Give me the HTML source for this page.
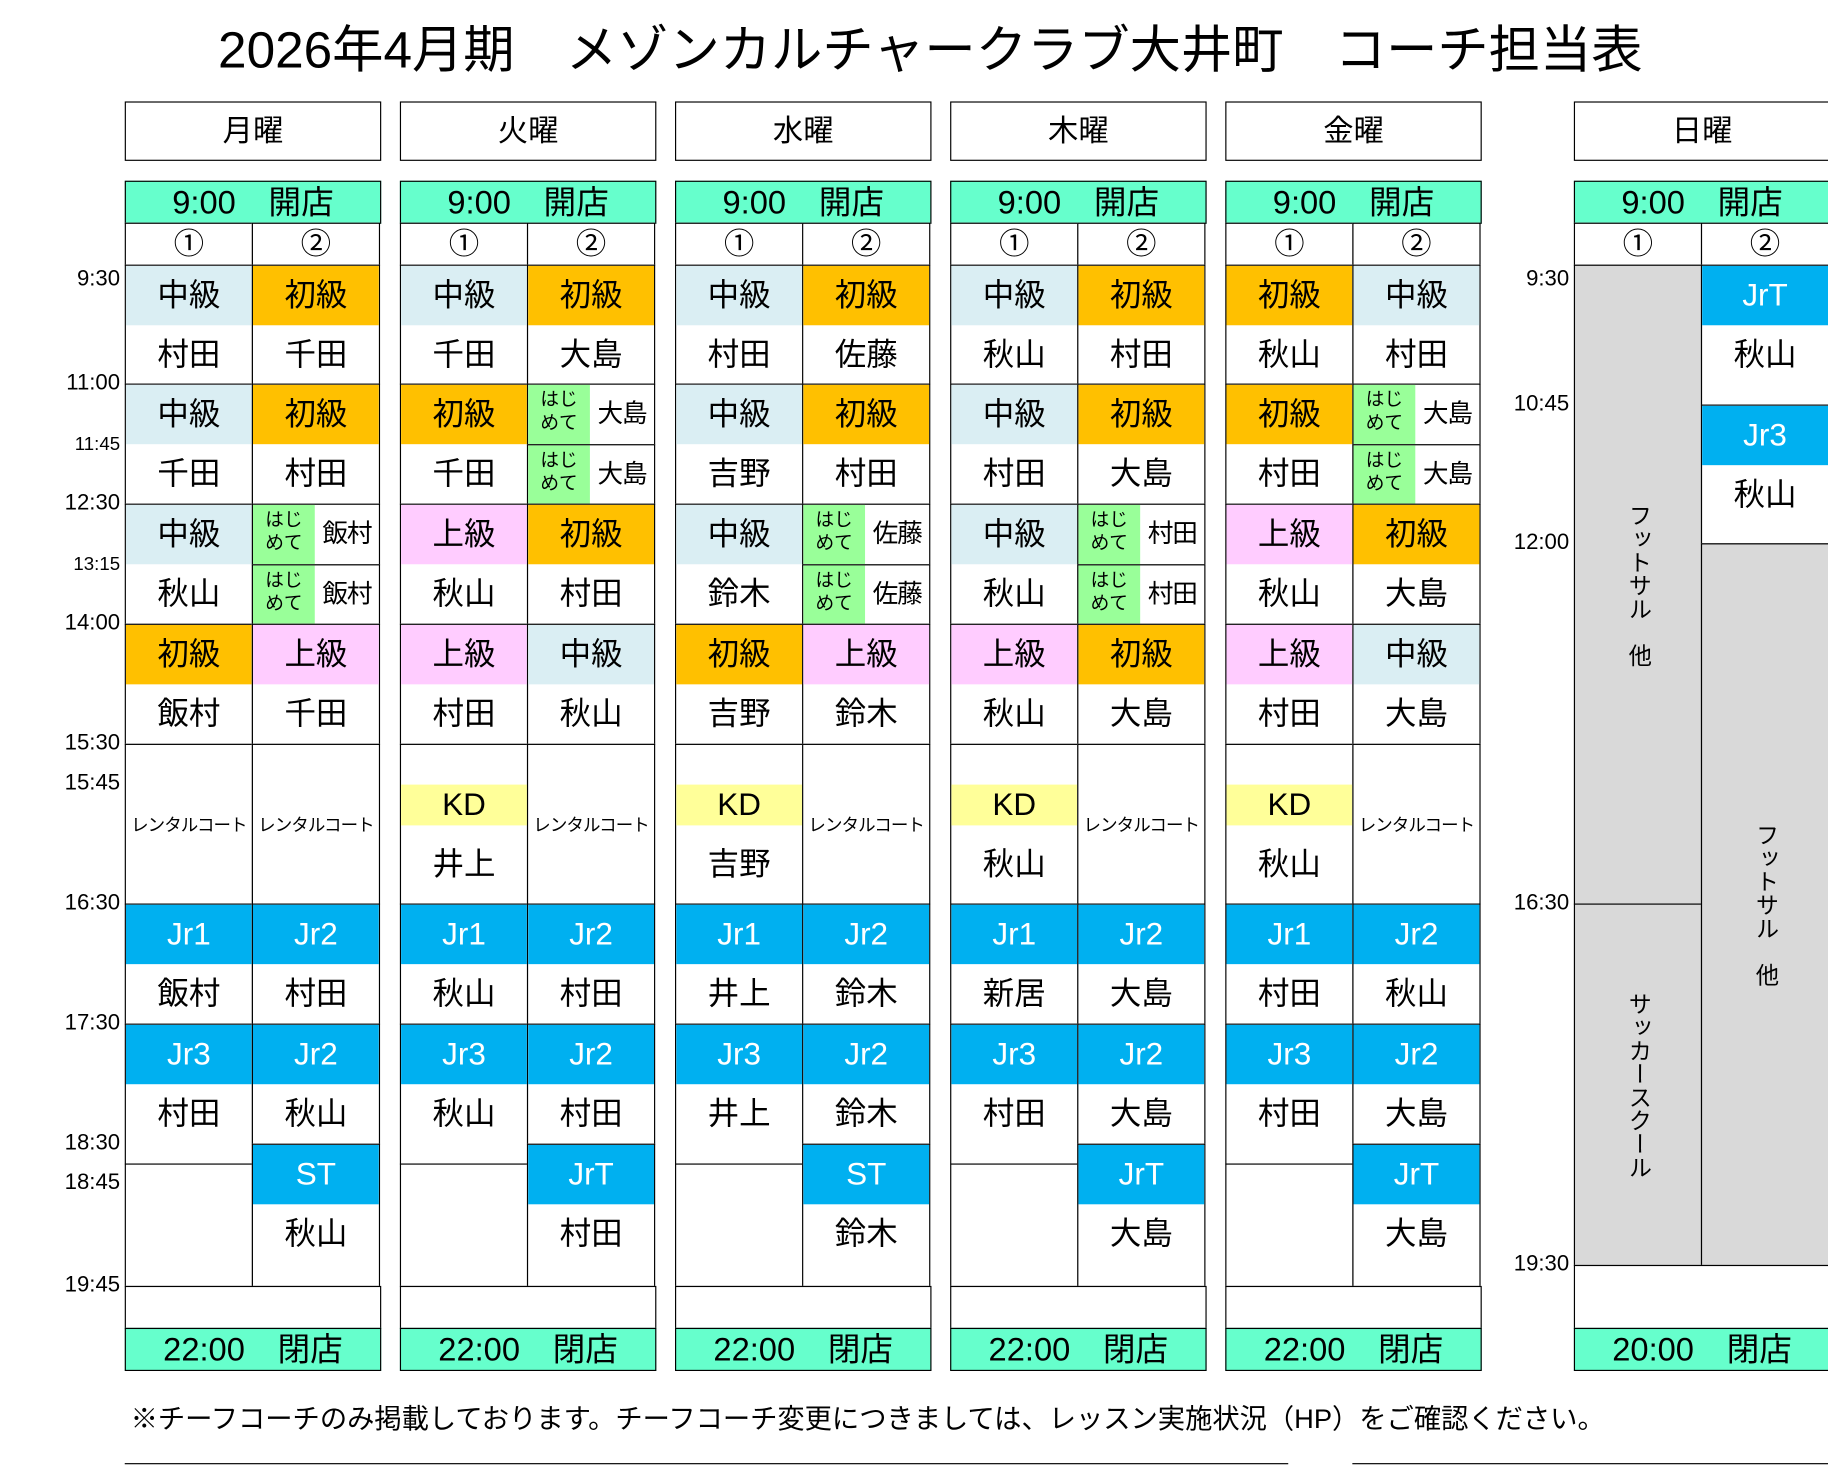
<!DOCTYPE html>
<html><head><meta charset="utf-8">
<style>
*{margin:0;padding:0}
body{width:1828px;height:1466px;background:#fff;overflow:hidden;font-family:"Liberation Sans","Noto Sans CJK JP",sans-serif;color:#000}
#w{position:absolute;left:0;top:0;width:1568px;height:1258px;transform:scale(1.16582);transform-origin:0 0}
.a{position:absolute}
.title{position:absolute;left:0;width:1596px;top:14px;text-align:center;font-size:44px;white-space:pre;line-height:60px}
.dh{position:absolute;top:87px;width:220px;height:51px;box-sizing:border-box;border:1px solid #000;text-align:center;font-size:26px;line-height:48px}
.d{position:absolute;top:155px;width:220px;height:1021px}
.b{position:absolute;box-sizing:border-box;border:1px solid #000;background:#fff;width:110px;overflow:hidden;font-size:27px;text-align:center}
.l{left:0}.r{left:109px}.f{left:0;width:220px}
.h,.n{height:51px;line-height:50px}
.o{top:0;height:37px;background:#66FFCC;line-height:35px;font-size:28px}
.num{top:36px;height:37px;line-height:35px;font-size:26px}
.c1{background:#DAEEF3}.c2{background:#FFC000}.c3{background:#FFCCFF}.jr{background:#00B0F0;color:#fff}.kd{background:#FFFF99}.g{background:#D9D9D9}
.rent{display:flex;align-items:center;justify-content:center;font-size:15px;letter-spacing:-0.8px;white-space:nowrap}
.hj{display:flex;font-size:22px}
.hj .s{width:53px;height:100%;background:#99FF99;font-size:16px;line-height:20px;padding-top:4px;box-sizing:border-box}
.hj .t{flex:1;line-height:50px;letter-spacing:-1px}
.tm{position:absolute;width:103px;text-align:right;font-size:19px;line-height:22px}
.tm.s{font-size:16px}
.v{writing-mode:vertical-rl;font-size:20px;position:absolute;left:0;right:0;display:flex;justify-content:center;align-items:center;white-space:pre}
.kdb .top{height:34px}.kdb .k{height:35px;line-height:35px}.kdb .nm{height:68px;line-height:66px}
.foot{position:absolute;left:112px;top:1198px;font-size:23.4px;white-space:nowrap}
</style></head><body><div id="w">
<div class="title">2026年4月期　メゾンカルチャークラブ大井町　コーチ担当表</div>

<div class="dh" style="left:107px">月曜</div>
<div class="dh" style="left:343px">火曜</div>
<div class="dh" style="left:579px">水曜</div>
<div class="dh" style="left:815px">木曜</div>
<div class="dh" style="left:1051px">金曜</div>
<div class="dh" style="left:1350px">日曜</div>

<div class="tm" style="left:0;top:229px">9:30</div>
<div class="tm" style="left:0;top:318px">11:00</div>
<div class="tm s" style="left:0;top:371px">11:45</div>
<div class="tm" style="left:0;top:421px">12:30</div>
<div class="tm s" style="left:0;top:474px">13:15</div>
<div class="tm" style="left:0;top:524px">14:00</div>
<div class="tm" style="left:0;top:627px">15:30</div>
<div class="tm" style="left:0;top:661px">15:45</div>
<div class="tm" style="left:0;top:764px">16:30</div>
<div class="tm" style="left:0;top:867px">17:30</div>
<div class="tm" style="left:0;top:970px">18:30</div>
<div class="tm" style="left:0;top:1004px">18:45</div>
<div class="tm" style="left:0;top:1092px">19:45</div>

<div class="tm" style="left:1243px;top:229px">9:30</div>
<div class="tm" style="left:1243px;top:336px">10:45</div>
<div class="tm" style="left:1243px;top:455px">12:00</div>
<div class="tm" style="left:1243px;top:764px">16:30</div>
<div class="tm" style="left:1243px;top:1074px">19:30</div>

<!-- Monday -->
<div class="d" style="left:107px">
<div class="b f o">9:00　開店</div>
<div class="b l num">①</div><div class="b r num">②</div>
<div class="b l" style="top:72px;height:103px"><div class="h c1">中級</div><div class="n">村田</div></div>
<div class="b l" style="top:174px;height:104px"><div class="h c1">中級</div><div class="n">千田</div></div>
<div class="b l" style="top:277px;height:104px"><div class="h c1">中級</div><div class="n">秋山</div></div>
<div class="b l" style="top:380px;height:104px"><div class="h c2">初級</div><div class="n">飯村</div></div>
<div class="b l rent" style="top:483px;height:138px">レンタルコート</div>
<div class="b l" style="top:620px;height:104px"><div class="h jr">Jr1</div><div class="n">飯村</div></div>
<div class="b l" style="top:723px;height:121px"><div class="h jr">Jr3</div><div class="n">村田</div></div>
<div class="b l" style="top:843px;height:106px"></div>
<div class="b r" style="top:72px;height:103px"><div class="h c2">初級</div><div class="n">千田</div></div>
<div class="b r" style="top:174px;height:104px"><div class="h c2">初級</div><div class="n">村田</div></div>
<div class="b r hj" style="top:277px;height:53px"><div class="s">はじ<br>めて</div><div class="t">飯村</div></div>
<div class="b r hj" style="top:329px;height:52px"><div class="s">はじ<br>めて</div><div class="t">飯村</div></div>
<div class="b r" style="top:380px;height:104px"><div class="h c3">上級</div><div class="n">千田</div></div>
<div class="b r rent" style="top:483px;height:138px">レンタルコート</div>
<div class="b r" style="top:620px;height:104px"><div class="h jr">Jr2</div><div class="n">村田</div></div>
<div class="b r" style="top:723px;height:104px"><div class="h jr">Jr2</div><div class="n">秋山</div></div>
<div class="b r" style="top:826px;height:123px"><div class="h jr">ST</div><div class="n">秋山</div></div>
<div class="b f" style="top:948px;height:37px"></div>
<div class="b f o" style="top:984px">22:00　閉店</div>
</div>

<!-- Tuesday -->
<div class="d" style="left:343px">
<div class="b f o">9:00　開店</div>
<div class="b l num">①</div><div class="b r num">②</div>
<div class="b l" style="top:72px;height:103px"><div class="h c1">中級</div><div class="n">千田</div></div>
<div class="b l" style="top:174px;height:104px"><div class="h c2">初級</div><div class="n">千田</div></div>
<div class="b l" style="top:277px;height:104px"><div class="h c3">上級</div><div class="n">秋山</div></div>
<div class="b l" style="top:380px;height:104px"><div class="h c3">上級</div><div class="n">村田</div></div>
<div class="b l kdb" style="top:483px;height:138px"><div class="top"></div><div class="k kd">KD</div><div class="nm">井上</div></div>
<div class="b l" style="top:620px;height:104px"><div class="h jr">Jr1</div><div class="n">秋山</div></div>
<div class="b l" style="top:723px;height:121px"><div class="h jr">Jr3</div><div class="n">秋山</div></div>
<div class="b l" style="top:843px;height:106px"></div>
<div class="b r" style="top:72px;height:103px"><div class="h c2">初級</div><div class="n">大島</div></div>
<div class="b r hj" style="top:174px;height:53px"><div class="s">はじ<br>めて</div><div class="t">大島</div></div>
<div class="b r hj" style="top:226px;height:52px"><div class="s">はじ<br>めて</div><div class="t">大島</div></div>
<div class="b r" style="top:277px;height:104px"><div class="h c2">初級</div><div class="n">村田</div></div>
<div class="b r" style="top:380px;height:104px"><div class="h c1">中級</div><div class="n">秋山</div></div>
<div class="b r rent" style="top:483px;height:138px">レンタルコート</div>
<div class="b r" style="top:620px;height:104px"><div class="h jr">Jr2</div><div class="n">村田</div></div>
<div class="b r" style="top:723px;height:104px"><div class="h jr">Jr2</div><div class="n">村田</div></div>
<div class="b r" style="top:826px;height:123px"><div class="h jr">JrT</div><div class="n">村田</div></div>
<div class="b f" style="top:948px;height:37px"></div>
<div class="b f o" style="top:984px">22:00　閉店</div>
</div>

<!-- Wednesday -->
<div class="d" style="left:579px">
<div class="b f o">9:00　開店</div>
<div class="b l num">①</div><div class="b r num">②</div>
<div class="b l" style="top:72px;height:103px"><div class="h c1">中級</div><div class="n">村田</div></div>
<div class="b l" style="top:174px;height:104px"><div class="h c1">中級</div><div class="n">吉野</div></div>
<div class="b l" style="top:277px;height:104px"><div class="h c1">中級</div><div class="n">鈴木</div></div>
<div class="b l" style="top:380px;height:104px"><div class="h c2">初級</div><div class="n">吉野</div></div>
<div class="b l kdb" style="top:483px;height:138px"><div class="top"></div><div class="k kd">KD</div><div class="nm">吉野</div></div>
<div class="b l" style="top:620px;height:104px"><div class="h jr">Jr1</div><div class="n">井上</div></div>
<div class="b l" style="top:723px;height:121px"><div class="h jr">Jr3</div><div class="n">井上</div></div>
<div class="b l" style="top:843px;height:106px"></div>
<div class="b r" style="top:72px;height:103px"><div class="h c2">初級</div><div class="n">佐藤</div></div>
<div class="b r" style="top:174px;height:104px"><div class="h c2">初級</div><div class="n">村田</div></div>
<div class="b r hj" style="top:277px;height:53px"><div class="s">はじ<br>めて</div><div class="t">佐藤</div></div>
<div class="b r hj" style="top:329px;height:52px"><div class="s">はじ<br>めて</div><div class="t">佐藤</div></div>
<div class="b r" style="top:380px;height:104px"><div class="h c3">上級</div><div class="n">鈴木</div></div>
<div class="b r rent" style="top:483px;height:138px">レンタルコート</div>
<div class="b r" style="top:620px;height:104px"><div class="h jr">Jr2</div><div class="n">鈴木</div></div>
<div class="b r" style="top:723px;height:104px"><div class="h jr">Jr2</div><div class="n">鈴木</div></div>
<div class="b r" style="top:826px;height:123px"><div class="h jr">ST</div><div class="n">鈴木</div></div>
<div class="b f" style="top:948px;height:37px"></div>
<div class="b f o" style="top:984px">22:00　閉店</div>
</div>

<!-- Thursday -->
<div class="d" style="left:815px">
<div class="b f o">9:00　開店</div>
<div class="b l num">①</div><div class="b r num">②</div>
<div class="b l" style="top:72px;height:103px"><div class="h c1">中級</div><div class="n">秋山</div></div>
<div class="b l" style="top:174px;height:104px"><div class="h c1">中級</div><div class="n">村田</div></div>
<div class="b l" style="top:277px;height:104px"><div class="h c1">中級</div><div class="n">秋山</div></div>
<div class="b l" style="top:380px;height:104px"><div class="h c3">上級</div><div class="n">秋山</div></div>
<div class="b l kdb" style="top:483px;height:138px"><div class="top"></div><div class="k kd">KD</div><div class="nm">秋山</div></div>
<div class="b l" style="top:620px;height:104px"><div class="h jr">Jr1</div><div class="n">新居</div></div>
<div class="b l" style="top:723px;height:121px"><div class="h jr">Jr3</div><div class="n">村田</div></div>
<div class="b l" style="top:843px;height:106px"></div>
<div class="b r" style="top:72px;height:103px"><div class="h c2">初級</div><div class="n">村田</div></div>
<div class="b r" style="top:174px;height:104px"><div class="h c2">初級</div><div class="n">大島</div></div>
<div class="b r hj" style="top:277px;height:53px"><div class="s">はじ<br>めて</div><div class="t">村田</div></div>
<div class="b r hj" style="top:329px;height:52px"><div class="s">はじ<br>めて</div><div class="t">村田</div></div>
<div class="b r" style="top:380px;height:104px"><div class="h c2">初級</div><div class="n">大島</div></div>
<div class="b r rent" style="top:483px;height:138px">レンタルコート</div>
<div class="b r" style="top:620px;height:104px"><div class="h jr">Jr2</div><div class="n">大島</div></div>
<div class="b r" style="top:723px;height:104px"><div class="h jr">Jr2</div><div class="n">大島</div></div>
<div class="b r" style="top:826px;height:123px"><div class="h jr">JrT</div><div class="n">大島</div></div>
<div class="b f" style="top:948px;height:37px"></div>
<div class="b f o" style="top:984px">22:00　閉店</div>
</div>

<!-- Friday -->
<div class="d" style="left:1051px">
<div class="b f o">9:00　開店</div>
<div class="b l num">①</div><div class="b r num">②</div>
<div class="b l" style="top:72px;height:103px"><div class="h c2">初級</div><div class="n">秋山</div></div>
<div class="b l" style="top:174px;height:104px"><div class="h c2">初級</div><div class="n">村田</div></div>
<div class="b l" style="top:277px;height:104px"><div class="h c3">上級</div><div class="n">秋山</div></div>
<div class="b l" style="top:380px;height:104px"><div class="h c3">上級</div><div class="n">村田</div></div>
<div class="b l kdb" style="top:483px;height:138px"><div class="top"></div><div class="k kd">KD</div><div class="nm">秋山</div></div>
<div class="b l" style="top:620px;height:104px"><div class="h jr">Jr1</div><div class="n">村田</div></div>
<div class="b l" style="top:723px;height:121px"><div class="h jr">Jr3</div><div class="n">村田</div></div>
<div class="b l" style="top:843px;height:106px"></div>
<div class="b r" style="top:72px;height:103px"><div class="h c1">中級</div><div class="n">村田</div></div>
<div class="b r hj" style="top:174px;height:53px"><div class="s">はじ<br>めて</div><div class="t">大島</div></div>
<div class="b r hj" style="top:226px;height:52px"><div class="s">はじ<br>めて</div><div class="t">大島</div></div>
<div class="b r" style="top:277px;height:104px"><div class="h c2">初級</div><div class="n">大島</div></div>
<div class="b r" style="top:380px;height:104px"><div class="h c1">中級</div><div class="n">大島</div></div>
<div class="b r rent" style="top:483px;height:138px">レンタルコート</div>
<div class="b r" style="top:620px;height:104px"><div class="h jr">Jr2</div><div class="n">秋山</div></div>
<div class="b r" style="top:723px;height:104px"><div class="h jr">Jr2</div><div class="n">大島</div></div>
<div class="b r" style="top:826px;height:123px"><div class="h jr">JrT</div><div class="n">大島</div></div>
<div class="b f" style="top:948px;height:37px"></div>
<div class="b f o" style="top:984px">22:00　閉店</div>
</div>

<!-- Sunday -->
<div class="d" style="left:1350px">
<div class="b f o">9:00　開店</div>
<div class="b l num">①</div><div class="b r num">②</div>
<div class="b l g" style="top:72px;height:549px"><div class="v" style="top:0;bottom:0">フットサル　他</div></div>
<div class="b l g" style="top:620px;height:311px"><div class="v" style="top:0;bottom:0">サッカースクール</div></div>
<div class="b r" style="top:72px;height:121px"><div class="h jr">JrT</div><div class="n">秋山</div></div>
<div class="b r" style="top:192px;height:120px"><div class="h jr">Jr3</div><div class="n">秋山</div></div>
<div class="b r g" style="top:311px;height:620px"><div class="v" style="top:0;bottom:0">フットサル　他</div></div>
<div class="b f" style="top:930px;height:55px"></div>
<div class="b f o" style="top:984px">20:00　閉店</div>
</div>

<div class="foot">※チーフコーチのみ掲載しております。チーフコーチ変更につきましては、レッスン実施状況（HP）をご確認ください。</div>
<div class="a" style="left:107px;top:1255px;width:998px;height:1px;background:#000"></div>
<div class="a" style="left:1160px;top:1255px;width:408px;height:1px;background:#000"></div>
</div></body></html>
